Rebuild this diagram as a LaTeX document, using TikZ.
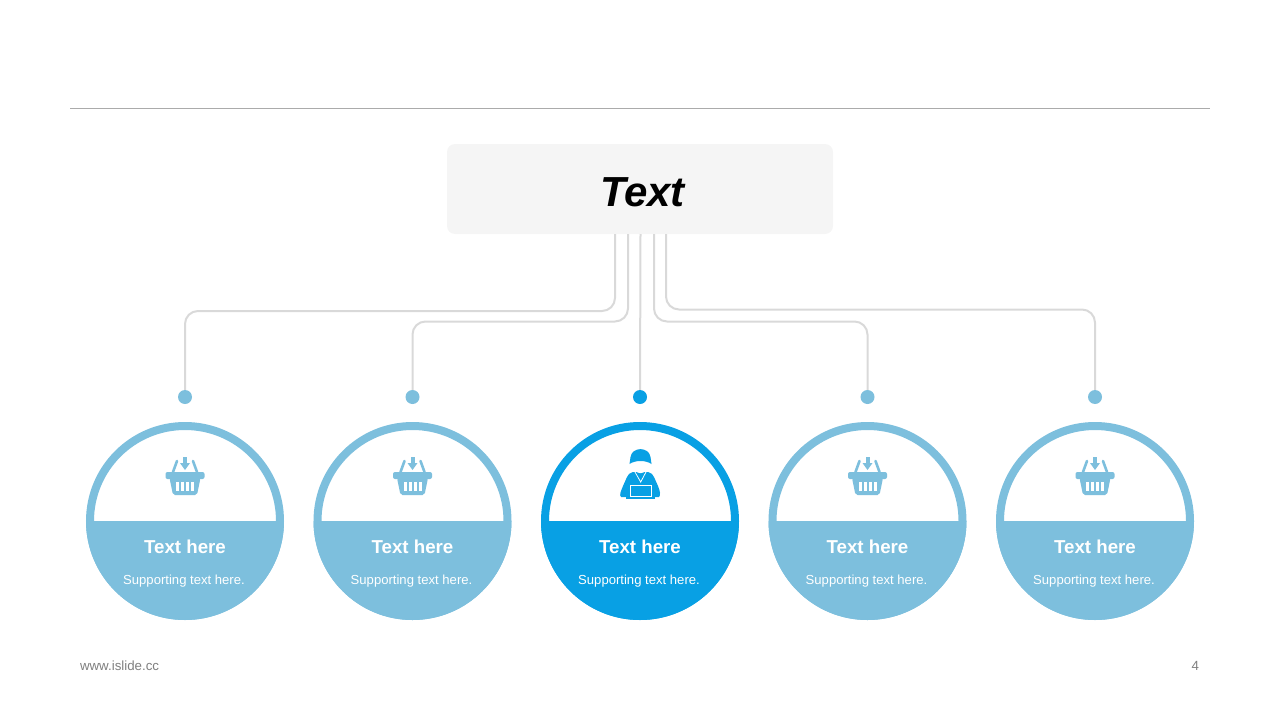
\documentclass[tikz,border=0pt]{standalone}
\usepackage{fontspec}
\setmainfont{Liberation Sans}
\definecolor{paleblue}{HTML}{7DBFDD}
\definecolor{deepblue}{HTML}{08A0E4}
\definecolor{wiregray}{HTML}{D9D9D9}
\definecolor{footgray}{HTML}{7F7F7F}
\tikzset{
	wire/.style={draw=wiregray, line width=2pt, rounded corners=13pt},
	dot/.style={circle, inner sep=0pt, minimum size=14pt, fill=#1},
	ring/.style={circle, inner sep=0pt, outer sep=0pt, minimum size=190pt, line width=8pt, draw=#1, fill=white},
	caption/.style={text=white, font=\bfseries\fontsize{18.7}{22}\selectfont},
	subcaption/.style={text=white, font=\fontsize{13.1}{16}\selectfont},
	foot/.style={text=footgray, font=\fontsize{13.3}{16}\selectfont},
	basket/.pic={
		% arrow
		\fill[paleblue] (-2,-20) rectangle (2,-13);
		\fill[paleblue] (-5,-14) -- (5,-14) -- (0,-7) -- cycle;
		% handles
		\draw[paleblue, line width=2.6pt, line cap=round] (-12,-5) -- (-8,-16);
		\draw[paleblue, line width=2.6pt, line cap=round] (12,-5) -- (8,-16);
		% rim and body
		\fill[paleblue, rounded corners=2pt] (-19.5,-5) rectangle (19.5,2);
		\fill[paleblue, rounded corners=2pt] (-15.5,1) -- (15.5,1) -- (12,18) -- (-12,18) -- cycle;
		\foreach \slot in {-7.5,-2.5,2.5,7.5}
			\fill[white] (\slot-1.5,5) rectangle (\slot+1.5,14);
	},
	worker/.pic={
		% body
		\fill[deepblue] (-19,20) .. controls (-21,18) and (-19,14) .. (-17,9) -- (-13,0) .. controls (-12,-3) and (-10,-4) .. (-7,-5) -- (8,-5) .. controls (11,-4) and (13,-3) .. (14,0) -- (18,9) .. controls (20,14) and (21,18) .. (19,20) -- cycle;
		\fill[deepblue] (-14,18) rectangle (15,22.3);
		% collar
		\draw[white, line width=0.8pt] (-5,-5) -- (0.7,5) -- (6,-5);
		% hat and face
		\fill[white] (-7.2,-15.3) .. controls (-7.2,0) and (8.2,0) .. (8.2,-15.3) -- cycle;
		\fill[deepblue] (-10.5,-13) -- (-9.5,-20) .. controls (-8,-30.5) and (9,-30.5) .. (10.5,-20) -- (11.5,-13) .. controls (6,-17) and (-5,-17) .. cycle;
		% laptop
		\fill[white] (-10,8) rectangle (11.7,20.3);
		\fill[deepblue] (-9,9) rectangle (10.7,19.3);
	},
}
\begin{document}
\begin{tikzpicture}[x=1pt, y=-1pt]

	\useasboundingbox (0,0) rectangle (1280,720);

	\draw[color=black!33, line width=1pt] (70,108) coordinate (ruleL) -- (1210,108) coordinate (ruleR);

	\node[fill=black!4, rounded corners=8pt, minimum width=386pt, minimum height=90pt, inner sep=0pt] (head) at (640,189) {};
	\node[font=\bfseries\itshape\fontsize{42}{48}\selectfont] (headtext) at (642.5,192) {Text};

	% where the lines leave the box
	\coordinate (outA) at (615,234);
	\coordinate (outB) at (628,234);
	\coordinate (outC) at (640.5,234);
	\coordinate (outD) at (654,234);
	\coordinate (outE) at (666,234);

	\coordinate (levelA) at (400,311);
	\coordinate (levelB) at (520,321.5);
	\coordinate (levelD) at (760,321.5);
	\coordinate (levelE) at (880,309.5);

	\foreach \name/\xpos/\tone in {A/185/paleblue, B/412.5/paleblue, C/640/deepblue, D/867.5/paleblue, E/1095/paleblue} {
		\node[dot=\tone] (dot\name) at (\xpos,397) {};
		\node[ring=\tone] (ring\name) at (\xpos,521) {};
		\fill[\tone] (\xpos-99,521) arc[start angle=180, end angle=360, radius=99pt] -- cycle;
		\node[caption] (title\name) at (\xpos,547) {Text here};
		\node[subcaption] (sub\name) at (\xpos-1,581) {Supporting text here.};
	}

	\draw[wire] (outA) |- (levelA) -| (dotA);
	\draw[wire] (outB) |- (levelB) -| (dotB);
	\draw[wire] (outC) -- (dotC);
	\draw[wire] (outD) |- (levelD) -| (dotD);
	\draw[wire] (outE) |- (levelE) -| (dotE);

	\pic at (185,477) {basket};
	\pic at (412.5,477) {basket};
	\pic at (640,477) {worker};
	\pic at (867.5,477) {basket};
	\pic at (1095,477) {basket};

	\node[foot, anchor=west] (site) at (76.5,666) {www.islide.cc};
	\node[foot, anchor=east] (page) at (1202.5,666) {4};

\end{tikzpicture}
\end{document}
